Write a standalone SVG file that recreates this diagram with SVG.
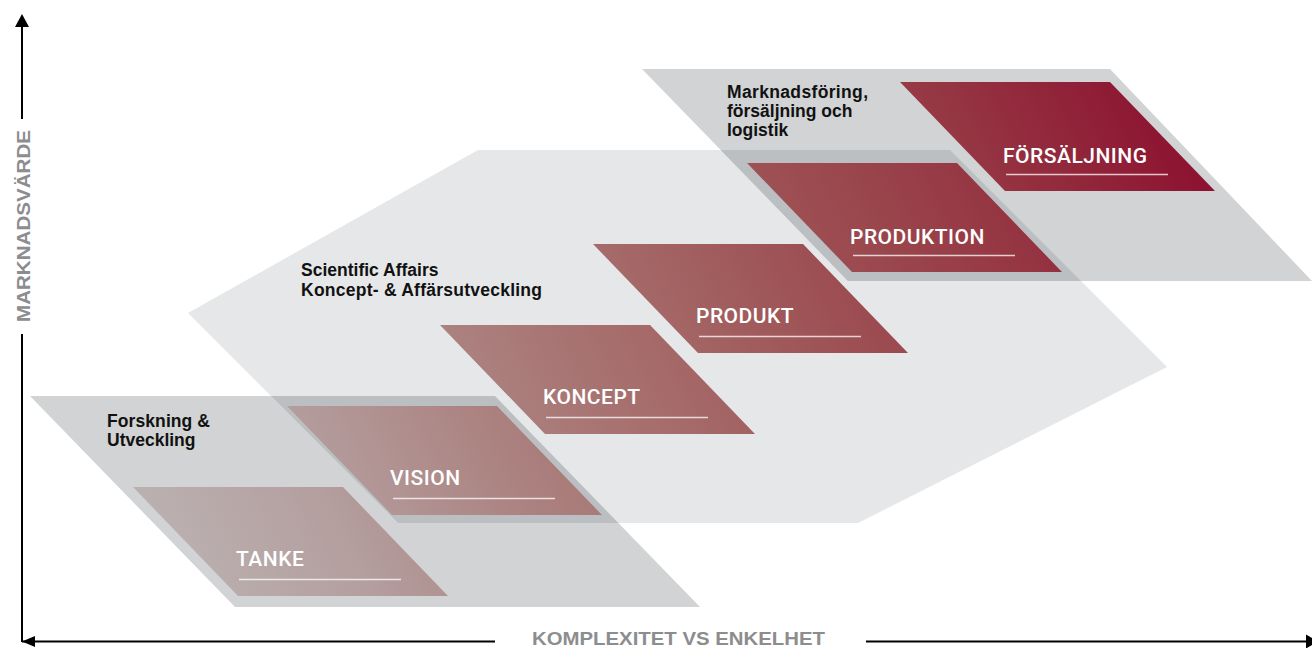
<svg xmlns="http://www.w3.org/2000/svg" width="1312" height="648" viewBox="0 0 1312 648">
  <defs>
    <linearGradient id="cardFill" gradientUnits="userSpaceOnUse" x1="133" y1="596" x2="1214" y2="82">
      <stop offset="0" stop-color="#bdb6b6"/>
      <stop offset="0.18" stop-color="#b49e9e"/>
      <stop offset="0.33" stop-color="#ab8280"/>
      <stop offset="0.48" stop-color="#a56a69"/>
      <stop offset="0.63" stop-color="#9d5053"/>
      <stop offset="0.78" stop-color="#963844"/>
      <stop offset="1" stop-color="#8a0a2c"/>
    </linearGradient>
  </defs>
  <style>
    .band { fill: #d1d3d4; }
    .hub { fill: #e6e7e8; }
    .overlap { fill: #bcbfc1; }
    .card { fill: url(#cardFill); }
    .card-label { font-family: Roboto, "Liberation Sans", sans-serif; font-weight: 500; font-size: 21px; fill: #ffffff; letter-spacing: 0.5px; }
    .card-rule { stroke: #ffffff; stroke-opacity: 0.75; stroke-width: 1.3; }
    .group-label { font-family: "Liberation Sans", Arial, sans-serif; font-weight: bold; font-size: 17.5px; fill: #111111; }
    .axis { stroke: #000000; stroke-width: 2; fill: none; }
    .axis-head { fill: #000000; }
    .axis-label { font-family: "Liberation Sans", Arial, sans-serif; font-weight: bold; font-size: 19px; fill: #8c8d8f; }
  </style>

  <!-- stage backgrounds -->
  <g id="stage-research">
    <polygon class="band" points="30,396 495,396 700,607 235,607"/>
  </g>
  <g id="stage-science">
    <polygon class="hub" points="478,150 950,150 1167,367 858,523 398,523 188,313"/>
  </g>
  <g id="stage-market">
    <polygon class="band" points="642,69 1110,69 1312,281 848,281"/>
  </g>
  <!-- where two stages overlap the grey deepens -->
  <g id="stage-overlaps">
    <polygon class="overlap" points="271,396 495,396 618.4,523 398,523"/>
    <polygon class="overlap" points="720.7,150 950,150 1081,281 848,281"/>
  </g>

  <!-- stage titles -->
  <g id="title-research">
    <text class="group-label" x="107" y="427" textLength="103">Forskning &amp;</text>
    <text class="group-label" x="107" y="446">Utveckling</text>
  </g>
  <g id="title-science">
    <text class="group-label" x="301" y="276">Scientific Affairs</text>
    <text class="group-label" x="301" y="296" textLength="241">Koncept- &amp; Affärsutveckling</text>
  </g>
  <g id="title-market">
    <text class="group-label" x="727" y="98" textLength="141">Marknadsföring,</text>
    <text class="group-label" x="727" y="117">försäljning och</text>
    <text class="group-label" x="727" y="136">logistik</text>
  </g>

  <!-- steps: parallelograms 210 wide, 109 high, slanted 105 -->
  <g id="step-tanke">
    <polygon class="card" points="133,487 343,487 448,596 238,596"/>
    <text class="card-label" x="236" y="566">TANKE</text>
    <line class="card-rule" x1="239" y1="579.5" x2="401" y2="579.5"/>
  </g>
  <g id="step-vision">
    <polygon class="card" points="287,406 497,406 602,515 392,515"/>
    <text class="card-label" x="390" y="485">VISION</text>
    <line class="card-rule" x1="393" y1="498.5" x2="555" y2="498.5"/>
  </g>
  <g id="step-koncept">
    <polygon class="card" points="440,325 650,325 755,434 545,434"/>
    <text class="card-label" x="543" y="404">KONCEPT</text>
    <line class="card-rule" x1="546" y1="417.5" x2="708" y2="417.5"/>
  </g>
  <g id="step-produkt">
    <polygon class="card" points="593,244 803,244 908,353 698,353"/>
    <text class="card-label" x="696" y="323">PRODUKT</text>
    <line class="card-rule" x1="699" y1="336.5" x2="861" y2="336.5"/>
  </g>
  <g id="step-produktion">
    <polygon class="card" points="747,163 957,163 1062,272 852,272"/>
    <text class="card-label" x="850" y="244">PRODUKTION</text>
    <line class="card-rule" x1="853" y1="255.5" x2="1015" y2="255.5"/>
  </g>
  <g id="step-forsaljning">
    <polygon class="card" points="900,82 1110,82 1215,191 1005,191"/>
    <text class="card-label" x="1003" y="163">FÖRSÄLJNING</text>
    <line class="card-rule" x1="1006" y1="174.5" x2="1168" y2="174.5"/>
  </g>

  <!-- axes -->
  <g id="axes">
    <line class="axis" x1="22" y1="26" x2="22" y2="119"/>
    <line class="axis" x1="22" y1="334" x2="22" y2="642"/>
    <polygon class="axis-head" points="22,14 29,27 15,27"/>
    <line class="axis" x1="22" y1="641.5" x2="495" y2="641.5"/>
    <line class="axis" x1="866" y1="641.5" x2="1308" y2="641.5"/>
    <polygon class="axis-head" points="22,641.5 35,636 35,647"/>
    <polygon class="axis-head" points="1318,641.5 1306,634.5 1306,648.5"/>
    <text class="axis-label" transform="translate(29.5,226) rotate(-90)" text-anchor="middle" textLength="192" lengthAdjust="spacingAndGlyphs">MARKNADSVÄRDE</text>
    <text class="axis-label" x="678.5" y="645" text-anchor="middle" textLength="293" lengthAdjust="spacingAndGlyphs">KOMPLEXITET VS ENKELHET</text>
  </g>
</svg>
